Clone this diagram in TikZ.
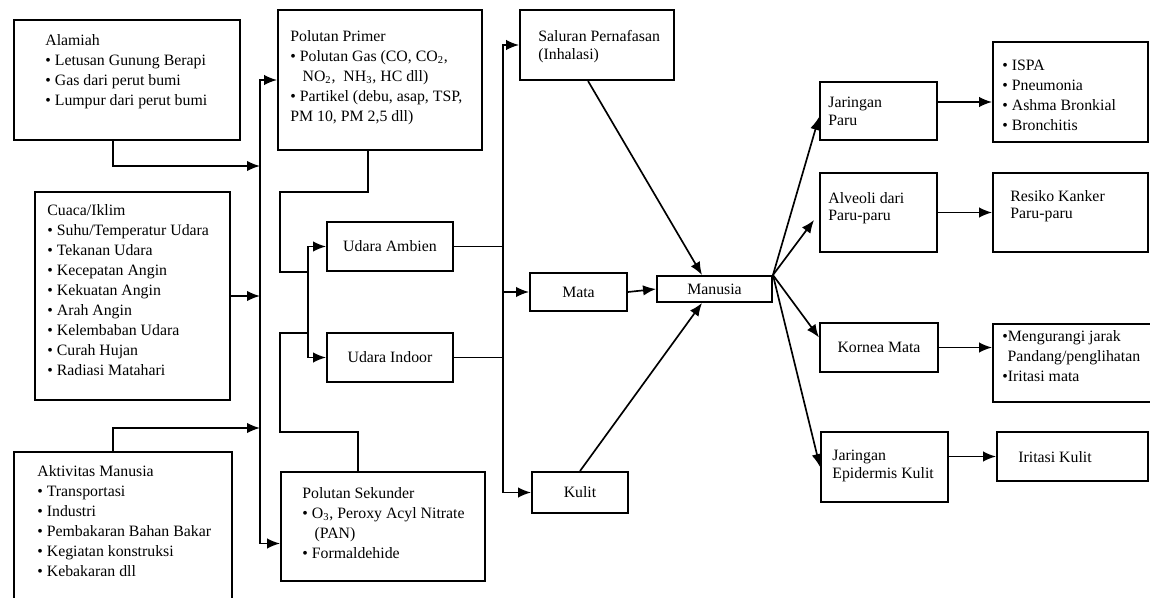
\documentclass[tikz,border=0pt]{standalone}
\usepackage{fontspec}
\setmainfont{Liberation Serif}
\usetikzlibrary{arrows.meta}

\tikzset{
  box/.style={draw, line width=1.1pt, inner sep=0pt, font=\fontsize{9}{11.4}\selectfont},
  txt/.style={anchor=north west, align=left, inner sep=0pt, font=\fontsize{9}{11.4}\selectfont},
  twoline/.style={txt, font=\fontsize{9}{10}\selectfont},
  link/.style={line width=0.95pt},
  arr/.style={link, -{Latex[length=2.6mm,width=2.1mm]}},
}

\begin{document}
\begin{tikzpicture}[x=0.02cm, y=-0.02cm]
  \useasboundingbox (0,0) rectangle (1150,598);
  \clip (0,0) rectangle (1150,598);

  % sources
  \node[box, minimum width=4.52cm, minimum height=2.4cm] (alam) at (127,80) {};
  \node[txt] (alamT) at (45,34) {Alamiah\\• Letusan Gunung Berapi\\• Gas dari perut bumi\\• Lumpur dari perut bumi};
  \node[box, minimum width=3.9cm, minimum height=4.16cm] (cuaca) at (132.5,296) {};
  \node[txt] (cuacaT) at (47,204) {Cuaca/Iklim\\• Suhu/Temperatur Udara\\• Tekanan Udara\\• Kecepatan Angin\\• Kekuatan Angin\\• Arah Angin\\• Kelembaban Udara\\• Curah Hujan\\• Radiasi Matahari};
  \node[box, minimum width=4.36cm, minimum height=3.16cm] (aktiv) at (123,531) {};
  \node[txt] (aktivT) at (37,465) {Aktivitas Manusia\\• Transportasi\\• Industri\\• Pembakaran Bahan Bakar\\• Kegiatan konstruksi\\• Kebakaran dll};

  % pollutants
  \node[box, minimum width=4.08cm, minimum height=2.8cm] (prim) at (380,80) {};
  \node[txt] (primT) at (290,30) {Polutan Primer\\• Polutan Gas (CO, CO\textsubscript{2},\\\hspace*{7pt}NO\textsubscript{2},\ \ NH\textsubscript{3}, HC dll)\\• Partikel (debu, asap, TSP,\\\hspace*{0pt}PM 10, PM 2,5 dll)};
  \node[box, minimum width=2.52cm, minimum height=0.98cm] (ambien) at (390,246.5) {Udara Ambien};
  \node[box, minimum width=2.52cm, minimum height=0.98cm] (indoor) at (390,357.5) {Udara Indoor};
  \node[box, minimum width=4.08cm, minimum height=2.18cm] (sekun) at (383,526.5) {};
  \node[txt] (sekunT) at (302,487) {Polutan Sekunder\\• O\textsubscript{3}, Peroxy Acyl Nitrate\\\hspace*{7pt}(PAN)\\• Formaldehide};

  % exposure routes
  \node[box, minimum width=3.08cm, minimum height=1.4cm] (salur) at (597,45) {};
  \node[twoline] (salurT) at (538,30) {Saluran Pernafasan\\(Inhalasi)};
  \node[box, minimum width=1.94cm, minimum height=0.76cm] (mata) at (578.5,292) {Mata};
  \node[box, minimum width=1.92cm, minimum height=0.82cm] (kulit) at (580,492.5) {Kulit};
  \node[box, minimum width=2.3cm, minimum height=0.52cm] (manusia) at (714.5,289) {Manusia};

  % organs
  \node[box, minimum width=2.34cm, minimum height=1.16cm] (paru) at (878.5,111) {};
  \node[twoline] (paruT) at (828,97) {Jaringan\\Paru};
  \node[box, minimum width=2.34cm, minimum height=1.58cm] (alveo) at (878.5,212.5) {};
  \node[twoline] (alveoT) at (828,192) {Alveoli dari\\Paru-paru};
  \node[box, minimum width=2.36cm, minimum height=0.98cm] (kornea) at (879,347.5) {Kornea Mata};
  \node[box, minimum width=2.54cm, minimum height=1.4cm] (epid) at (884.5,467) {};
  \node[twoline] (epidT) at (832,450) {Jaringan\\Epidermis Kulit};

  % effects
  \node[box, minimum width=3.1cm, minimum height=2cm] (ispa) at (1070.5,92) {};
  \node[txt] (ispaT) at (1002,60) {• ISPA\\• Pneumonia\\• Ashma Bronkial\\• Bronchitis};
  \node[box, minimum width=3.1cm, minimum height=1.58cm] (kanker) at (1070.5,212.5) {};
  \node[twoline] (kankerT) at (1010,190) {Resiko Kanker\\Paru-paru};
  \node[box, minimum width=3.2cm, minimum height=1.56cm] (kurang) at (1073,363) {};
  \node[txt] (kurangT) at (1002,330) {•Mengurangi jarak\\\hspace*{3pt}Pandang/penglihatan\\•Iritasi mata};
  \node[box, minimum width=3.02cm, minimum height=0.98cm] (iritk) at (1072.5,456.5) {};
  \node[txt, anchor=west] (iritkT) at (1018,457) {Iritasi Kulit};

  % bus lines
  \coordinate (bus) at (260,0);
  \coordinate (hub) at (308,0);
  \coordinate (bus2) at (503,0);
  \coordinate (alamOut) at (113,166);
  \coordinate (aktivOut) at (113,428);
  \coordinate (pA) at (368,192);
  \coordinate (pB) at (280,272);
  \coordinate (sA) at (358,432);
  \coordinate (sB) at (280,333);

  \draw[arr] (alamOut |- alam.south) -- (alamOut) -- (alamOut -| bus);
  \draw[arr] (cuaca.east) -- (cuaca.east -| bus);
  \draw[arr] (aktivOut |- aktiv.north) -- (aktivOut) -- (aktivOut -| bus);
  \draw[arr] (bus |- cuaca.east) |- (prim.west);
  \draw[arr] (bus |- cuaca.east) |- ([yshift=-0.34cm]sekun.west);

  \draw[link] (pA |- prim.south) -- (pA) -| (pB) -- (pB -| hub);
  \draw[link] (sA |- sekun.north) -- (sA) -| (sB) -- (sB -| hub);
  \draw[arr] (hub |- pB) |- (ambien.west);
  \draw[arr] (hub |- pB) |- (indoor.west);

  \draw[link] (ambien.east) -- (ambien.east -| bus2);
  \draw[link] (indoor.east) -- (indoor.east -| bus2);
  \draw[arr] (bus2 |- mata.west) |- (salur.west);
  \draw[arr] (bus2 |- mata.west) |- (kulit.west);
  \draw[arr] (bus2 |- mata.west) -- (mata.west);

  \draw[arr] ([xshift=-0.18cm]salur.south) -- ([xshift=-0.25cm]manusia.north);
  \draw[arr] (mata.east) -- (manusia.west);
  \draw[arr] (kulit.north) -- ([xshift=-0.25cm]manusia.south);

  % fan out from Manusia
  \draw[arr] (manusia.north east) -- ([yshift=-0.12cm]paru.west);
  \draw[arr] (manusia.north east) -- ([xshift=-0.1cm,yshift=-0.15cm]alveo.west);
  \draw[arr] (manusia.north east) -- ([yshift=0.2cm]kornea.west);
  \draw[arr] (manusia.north east) -- (epid.west);

  \draw[arr] ([yshift=0.18cm]paru.east) -- ([yshift=0.18cm]paru.east -| ispa.west);
  \draw[arr] (alveo.east) -- (kanker.west);
  \draw[arr] (kornea.east) -- (kornea.east -| kurang.west);
  \draw[arr] (iritk.west -| epid.east) -- (iritk.west);
\end{tikzpicture}
\end{document}
